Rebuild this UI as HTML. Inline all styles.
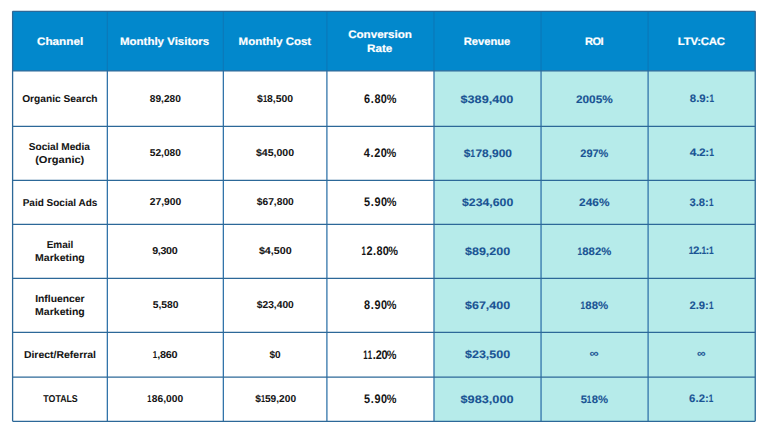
<!DOCTYPE html><html><head><meta charset="utf-8"><style>
*{margin:0;padding:0;box-sizing:border-box}
html,body{width:768px;height:432px;background:#fff;overflow:hidden}
body{position:relative;font-family:"Liberation Sans",sans-serif;font-weight:bold;text-rendering:geometricPrecision}
.c{position:absolute;display:flex;flex-direction:column;align-items:center;justify-content:center;text-align:center;white-space:nowrap}
.c>span{display:block;transform-origin:50% 50%}
.o{display:inline-block;transform:scaleX(0.72);margin:0 -0.75px}
.p{margin:0 0.3px}
.h{color:#fff;font-size:10.9px;line-height:14.4px;-webkit-text-stroke:0.2px #fff}
.t{color:#141414;font-size:10px;line-height:13.25px;-webkit-text-stroke:0.05px #141414}
.r{color:#141414;font-size:12.4px}
.pc{margin:0 -0.8px}
.b{color:#1a5494;font-size:10.9px;-webkit-text-stroke:0.1px #1a5494}
</style></head><body>
<svg width="768" height="432" style="position:absolute;left:0;top:0"><rect x="12.6" y="11.3" width="742.65" height="59.60000000000001" fill="#0288cc"/><rect x="434.0" y="70.9" width="321.25" height="350.4" fill="#b6ebea"/><line x1="12.6" y1="11.3" x2="12.6" y2="421.3" stroke="#2c6898" stroke-width="1.3"/><line x1="107.35" y1="11.3" x2="107.35" y2="70.9" stroke="#0a7abb" stroke-width="1.3"/><line x1="107.35" y1="70.9" x2="107.35" y2="421.3" stroke="#3274aa" stroke-width="1.3"/><line x1="223.35" y1="11.3" x2="223.35" y2="70.9" stroke="#0a7abb" stroke-width="1.3"/><line x1="223.35" y1="70.9" x2="223.35" y2="421.3" stroke="#3274aa" stroke-width="1.3"/><line x1="326.9" y1="11.3" x2="326.9" y2="70.9" stroke="#0a7abb" stroke-width="1.3"/><line x1="326.9" y1="70.9" x2="326.9" y2="421.3" stroke="#3274aa" stroke-width="1.3"/><line x1="434.0" y1="11.3" x2="434.0" y2="70.9" stroke="#0a7abb" stroke-width="1.3"/><line x1="434.0" y1="70.9" x2="434.0" y2="421.3" stroke="#3274aa" stroke-width="1.3"/><line x1="541.05" y1="11.3" x2="541.05" y2="70.9" stroke="#0a7abb" stroke-width="1.3"/><line x1="541.05" y1="70.9" x2="541.05" y2="421.3" stroke="#3274aa" stroke-width="1.3"/><line x1="648.1" y1="11.3" x2="648.1" y2="70.9" stroke="#0a7abb" stroke-width="1.3"/><line x1="648.1" y1="70.9" x2="648.1" y2="421.3" stroke="#3274aa" stroke-width="1.3"/><line x1="755.25" y1="11.3" x2="755.25" y2="421.3" stroke="#2c6898" stroke-width="1.3"/><line x1="12.6" y1="11.3" x2="755.25" y2="11.3" stroke="#2c6898" stroke-width="1.3"/><line x1="12.6" y1="70.9" x2="755.25" y2="70.9" stroke="#2c6898" stroke-width="1.3"/><line x1="12.6" y1="126.3" x2="755.25" y2="126.3" stroke="#2c6898" stroke-width="1.3"/><line x1="12.6" y1="180.4" x2="755.25" y2="180.4" stroke="#2c6898" stroke-width="1.3"/><line x1="12.6" y1="224.4" x2="755.25" y2="224.4" stroke="#2c6898" stroke-width="1.3"/><line x1="12.6" y1="278.3" x2="755.25" y2="278.3" stroke="#2c6898" stroke-width="1.3"/><line x1="12.6" y1="332.4" x2="755.25" y2="332.4" stroke="#2c6898" stroke-width="1.3"/><line x1="12.6" y1="377.2" x2="755.25" y2="377.2" stroke="#2c6898" stroke-width="1.3"/><line x1="12.6" y1="421.3" x2="755.25" y2="421.3" stroke="#2c6898" stroke-width="1.3"/></svg>
<div class="c h" style="left:12.6px;top:11.3px;width:94.8px;height:59.6px"><span style="transform:translate(-0.40px,1.15px) scaleX(1.0772)">Channel</span></div>
<div class="c h" style="left:107.35px;top:11.3px;width:116.0px;height:59.6px"><span style="transform:translate(-0.70px,1.15px) scaleX(1.0558)">Monthly Visitors</span></div>
<div class="c h" style="left:223.35px;top:11.3px;width:103.5px;height:59.6px"><span style="transform:translate(-0.60px,1.15px) scaleX(1.0528)">Monthly Cost</span></div>
<div class="c h" style="left:326.9px;top:11.3px;width:107.1px;height:59.6px"><span style="transform:translate(0.10px,1.15px) scaleX(1.0651)">Conversion</span><span style="transform:translate(-1.20px,1.15px) scaleX(1.0735)">Rate</span></div>
<div class="c h" style="left:434.0px;top:11.3px;width:107.0px;height:59.6px"><span style="transform:translate(-0.70px,1.15px) scaleX(1.0249)">Revenue</span></div>
<div class="c h" style="left:541.05px;top:11.3px;width:107.1px;height:59.6px"><span style="transform:translate(-0.90px,1.15px) scaleX(1.0157);letter-spacing:-0.500px">ROI</span></div>
<div class="c h" style="left:648.1px;top:11.3px;width:107.1px;height:59.6px"><span style="transform:translate(-0.10px,1.15px) scaleX(1.0469);letter-spacing:-0.228px">LTV:CAC</span></div>
<div class="c t" style="left:12.6px;top:70.9px;width:94.8px;height:55.4px"><span style="transform:translate(-0.10px,0.95px) scaleX(1.0191)">Organic Search</span></div>
<div class="c t" style="left:107.35px;top:70.9px;width:116.0px;height:55.4px"><span style="transform:translate(0.00px,0.55px) scaleX(1.0152)">89,280</span></div>
<div class="c t" style="left:223.35px;top:70.9px;width:103.5px;height:55.4px"><span style="transform:translate(-0.30px,0.55px) scaleX(1.0438)">$<span class="o">1</span>8,500</span></div>
<div class="c r" style="left:326.9px;top:70.9px;width:107.1px;height:55.4px"><span style="transform:translate(-0.20px,-0.50px) scaleX(0.8800);letter-spacing:0.451px">6<span class="p">.</span>80<span class="pc">%</span></span></div>
<div class="c b" style="left:434.0px;top:70.9px;width:107.0px;height:55.4px"><span style="transform:translate(-0.80px,0.50px) scaleX(1.1624)">$389,400</span></div>
<div class="c b" style="left:541.05px;top:70.9px;width:107.1px;height:55.4px"><span style="transform:translate(-0.60px,0.50px) scaleX(1.0864)">2005%</span></div>
<div class="c b" style="left:648.1px;top:70.9px;width:107.1px;height:55.4px"><span style="transform:translate(0.40px,0.00px) scaleX(1.0489);letter-spacing:-0.348px">8<span class="p">.</span>9<span class="p">:</span><span class="o">1</span></span></div>
<div class="c t" style="left:12.6px;top:126.3px;width:94.8px;height:54.1px"><span style="transform:translate(-0.80px,0.95px) scaleX(1.0121);letter-spacing:-0.027px">Social Media</span><span style="transform:translate(-0.50px,0.95px) scaleX(1.1055)">(Organic)</span></div>
<div class="c t" style="left:107.35px;top:126.3px;width:116.0px;height:54.1px"><span style="transform:translate(0.00px,0.05px) scaleX(1.0152)">52,080</span></div>
<div class="c t" style="left:223.35px;top:126.3px;width:103.5px;height:54.1px"><span style="transform:translate(-0.10px,0.05px) scaleX(1.0552)">$45,000</span></div>
<div class="c r" style="left:326.9px;top:126.3px;width:107.1px;height:54.1px"><span style="transform:translate(-0.40px,0.00px) scaleX(0.8800);letter-spacing:0.451px">4<span class="p">.</span>20<span class="pc">%</span></span></div>
<div class="c b" style="left:434.0px;top:126.3px;width:107.0px;height:54.1px"><span style="transform:translate(-0.10px,1.00px) scaleX(1.0997)">$<span class="o">1</span>78,900</span></div>
<div class="c b" style="left:541.05px;top:126.3px;width:107.1px;height:54.1px"><span style="transform:translate(-0.60px,1.00px) scaleX(1.0084)">297%</span></div>
<div class="c b" style="left:648.1px;top:126.3px;width:107.1px;height:54.1px"><span style="transform:translate(-0.10px,0.00px) scaleX(1.0966);letter-spacing:-0.640px">4<span class="p">.</span>2<span class="p">:</span><span class="o">1</span></span></div>
<div class="c t" style="left:12.6px;top:180.4px;width:94.8px;height:44.0px"><span style="transform:translate(0.00px,0.95px) scaleX(1.0000)">Paid Social Ads</span></div>
<div class="c t" style="left:107.35px;top:180.4px;width:116.0px;height:44.0px"><span style="transform:translate(0.20px,0.15px) scaleX(1.0285)">27,900</span></div>
<div class="c t" style="left:223.35px;top:180.4px;width:103.5px;height:44.0px"><span style="transform:translate(0.20px,0.15px) scaleX(1.0244)">$67,800</span></div>
<div class="c r" style="left:326.9px;top:180.4px;width:107.1px;height:44.0px"><span style="transform:translate(-0.30px,0.10px) scaleX(0.8800);letter-spacing:0.518px">5<span class="p">.</span>90<span class="pc">%</span></span></div>
<div class="c b" style="left:434.0px;top:180.4px;width:107.0px;height:44.0px"><span style="transform:translate(-0.10px,1.10px) scaleX(1.1293)">$234,600</span></div>
<div class="c b" style="left:541.05px;top:180.4px;width:107.1px;height:44.0px"><span style="transform:translate(-0.60px,1.10px) scaleX(1.0928)">246%</span></div>
<div class="c b" style="left:648.1px;top:180.4px;width:107.1px;height:44.0px"><span style="transform:translate(-0.10px,1.10px) scaleX(1.0344);letter-spacing:-0.325px">3<span class="p">.</span>8<span class="p">:</span><span class="o">1</span></span></div>
<div class="c t" style="left:12.6px;top:224.4px;width:94.8px;height:53.9px"><span style="transform:translate(0.00px,0.95px) scaleX(1.0000)">Email</span><span style="transform:translate(0.30px,0.95px) scaleX(1.0498)">Marketing</span></div>
<div class="c t" style="left:107.35px;top:224.4px;width:116.0px;height:53.9px"><span style="transform:translate(-1.00px,0.05px) scaleX(1.0726);letter-spacing:-0.315px">9,300</span></div>
<div class="c t" style="left:223.35px;top:224.4px;width:103.5px;height:53.9px"><span style="transform:translate(0.00px,0.05px) scaleX(1.0709)">$4,500</span></div>
<div class="c r" style="left:326.9px;top:224.4px;width:107.1px;height:53.9px"><span style="transform:translate(-0.90px,0.00px) scaleX(0.8800);letter-spacing:0.228px"><span class="o">1</span>2<span class="p">.</span>80<span class="pc">%</span></span></div>
<div class="c b" style="left:434.0px;top:224.4px;width:107.0px;height:53.9px"><span style="transform:translate(-0.10px,1.00px) scaleX(1.1491)">$89,200</span></div>
<div class="c b" style="left:541.05px;top:224.4px;width:107.1px;height:53.9px"><span style="transform:translate(0.20px,1.00px) scaleX(1.0399)"><span class="o">1</span>882%</span></div>
<div class="c b" style="left:648.1px;top:224.4px;width:107.1px;height:53.9px"><span style="transform:translate(-1.20px,0.00px) scaleX(1.0635);letter-spacing:-0.904px"><span class="o">1</span>2<span class="p">.</span><span class="o">1</span><span class="p">:</span><span class="o">1</span></span></div>
<div class="c t" style="left:12.6px;top:278.3px;width:94.8px;height:54.1px"><span style="transform:translate(0.00px,0.95px) scaleX(1.0357)">Influencer</span><span style="transform:translate(0.30px,0.95px) scaleX(1.0498)">Marketing</span></div>
<div class="c t" style="left:107.35px;top:278.3px;width:116.0px;height:54.1px"><span style="transform:translate(0.10px,0.05px) scaleX(1.0309)">5,580</span></div>
<div class="c t" style="left:223.35px;top:278.3px;width:103.5px;height:54.1px"><span style="transform:translate(0.20px,0.05px) scaleX(1.0244)">$23,400</span></div>
<div class="c r" style="left:326.9px;top:278.3px;width:107.1px;height:54.1px"><span style="transform:translate(-0.30px,0.00px) scaleX(0.8800);letter-spacing:0.519px">8<span class="p">.</span>90<span class="pc">%</span></span></div>
<div class="c b" style="left:434.0px;top:278.3px;width:107.0px;height:54.1px"><span style="transform:translate(-0.10px,1.00px) scaleX(1.1491)">$67,400</span></div>
<div class="c b" style="left:541.05px;top:278.3px;width:107.1px;height:54.1px"><span style="transform:translate(0.20px,0.50px) scaleX(1.0495)"><span class="o">1</span>88%</span></div>
<div class="c b" style="left:648.1px;top:278.3px;width:107.1px;height:54.1px"><span style="transform:translate(-0.10px,0.50px) scaleX(1.0344);letter-spacing:-0.325px">2<span class="p">.</span>9<span class="p">:</span><span class="o">1</span></span></div>
<div class="c t" style="left:12.6px;top:332.4px;width:94.8px;height:44.8px"><span style="transform:translate(-0.50px,0.95px) scaleX(1.0461)">Direct/Referral</span></div>
<div class="c t" style="left:107.35px;top:332.4px;width:116.0px;height:44.8px"><span style="transform:translate(0.00px,0.95px) scaleX(1.0898);letter-spacing:-0.265px"><span class="o">1</span>,860</span></div>
<div class="c t" style="left:223.35px;top:332.4px;width:103.5px;height:44.8px"><span style="transform:translate(0.00px,0.95px) scaleX(1.0000)">$0</span></div>
<div class="c r" style="left:326.9px;top:332.4px;width:107.1px;height:44.8px"><span style="transform:translate(-0.90px,-0.10px) scaleX(0.8800);letter-spacing:-0.227px"><span class="o">1</span><span class="o">1</span><span class="p">.</span>20<span class="pc">%</span></span></div>
<div class="c b" style="left:434.0px;top:332.4px;width:107.0px;height:44.8px"><span style="transform:translate(-0.10px,-0.10px) scaleX(1.1491)">$23,500</span></div>
<div class="c b" style="left:541.05px;top:332.4px;width:107.1px;height:44.8px"><span style="transform:translate(-0.80px,-1.10px) scaleX(1.1767)">&#8734;</span></div>
<div class="c b" style="left:648.1px;top:332.4px;width:107.1px;height:44.8px"><span style="transform:translate(-0.70px,-1.10px) scaleX(1.1061)">&#8734;</span></div>
<div class="c t" style="left:12.6px;top:377.2px;width:94.8px;height:44.1px"><span style="transform:translate(1.00px,-0.45px) scaleX(0.8800)">TOTALS</span></div>
<div class="c t" style="left:107.35px;top:377.2px;width:116.0px;height:44.1px"><span style="transform:translate(0.00px,-0.15px) scaleX(1.0260)"><span class="o">1</span>86,000</span></div>
<div class="c t" style="left:223.35px;top:377.2px;width:103.5px;height:44.1px"><span style="transform:translate(0.50px,-0.15px) scaleX(1.0170)">$<span class="o">1</span>59,200</span></div>
<div class="c r" style="left:326.9px;top:377.2px;width:107.1px;height:44.1px"><span style="transform:translate(-0.30px,-0.20px) scaleX(0.8800);letter-spacing:0.518px">5<span class="p">.</span>90<span class="pc">%</span></span></div>
<div class="c b" style="left:434.0px;top:377.2px;width:107.0px;height:44.1px"><span style="transform:translate(-0.70px,0.80px) scaleX(1.1671)">$983,000</span></div>
<div class="c b" style="left:541.05px;top:377.2px;width:107.1px;height:44.1px"><span style="transform:translate(0.30px,0.80px) scaleX(1.0385)">5<span class="o">1</span>8%</span></div>
<div class="c b" style="left:648.1px;top:377.2px;width:107.1px;height:44.1px"><span style="transform:translate(-0.40px,0.30px) scaleX(1.0435);letter-spacing:-0.250px">6<span class="p">.</span>2<span class="p">:</span><span class="o">1</span></span></div>
</body></html>
